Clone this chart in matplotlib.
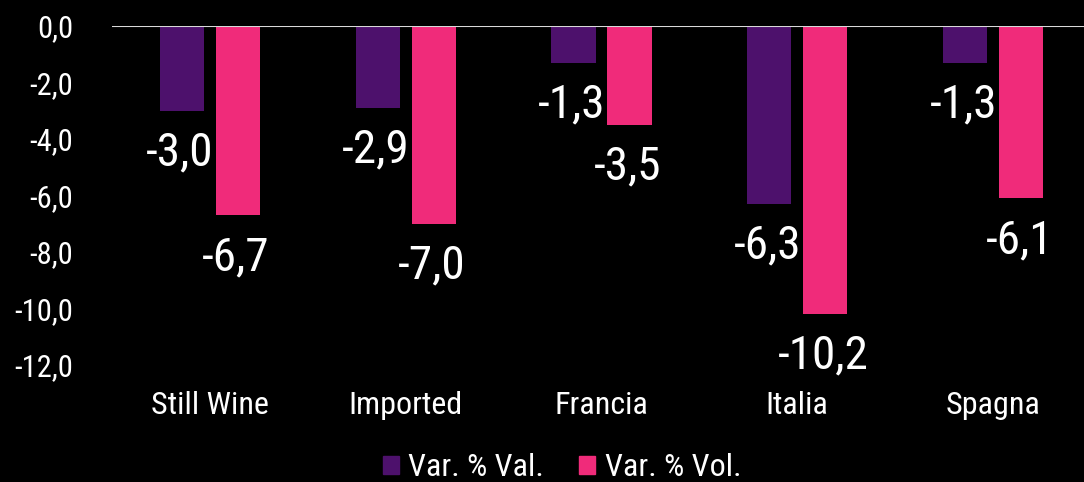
import numpy as np
import matplotlib.pyplot as plt
from matplotlib.patches import Patch

# dati
categorie = ['Still Wine', 'Imported', 'Francia', 'Italia', 'Spagna']
var_val = [-3.0, -2.9, -1.3, -6.3, -1.3]
var_vol = [-6.7, -7.0, -3.5, -10.2, -6.1]
yticks = [0, -2, -4, -6, -8, -10, -12]

viola = '#4D116C'
rosa = '#F02B7A'

plt.rcParams['font.family'] = ['Roboto Condensed', 'Liberation Sans Narrow', 'Roboto', 'DejaVu Sans']

fig = plt.figure(figsize=(10.84, 4.82), dpi=100, facecolor='black')
ax = fig.add_axes([112 / 1084, 1 - 365 / 482, 979 / 1084, 339 / 482])
ax.set_facecolor('black')

x = np.arange(len(categorie))
w = 0.225
off = 0.143
b1 = ax.bar(x - off, var_val, w, color=viola)
b2 = ax.bar(x + off, var_vol, w, color=rosa)

# etichette sotto le barre
for bars, vals in ((b1, var_val), (b2, var_vol)):
    for r, v in zip(bars, vals):
        ax.annotate(f'{v:.1f}'.replace('.', ','),
                    (r.get_x() + r.get_width() / 2 - 0.01, v),
                    xytext=(0, -30), textcoords='offset points',
                    ha='center', va='center', color='white', fontsize=34)

ax.axhline(0, color='#D9D9D9', lw=1.5)
ax.set_xlim(-0.5, len(categorie) - 0.5)
ax.set_ylim(-12, 0)
ax.set_yticks(yticks)
ax.set_yticklabels([f'{t:.1f}'.replace('.', ',') for t in yticks])
ax.set_xticks(x)
ax.set_xticklabels(categorie)
ax.tick_params(axis='y', length=0, pad=28, labelsize=22, labelcolor='white')
ax.tick_params(axis='x', length=0, pad=19, labelsize=23, labelcolor='white')
for s in ax.spines.values():
    s.set_visible(False)

handles = [Patch(color=viola, label='Var. % Val.'), Patch(color=rosa, label='Var. % Vol.')]
fig.legend(handles=handles, loc='center', bbox_to_anchor=(562 / 1084, 1 - 468 / 482),
           ncol=2, frameon=False, fontsize=23, labelcolor='white',
           handlelength=0.5, handleheight=0.5, handletextpad=0.3, columnspacing=1.1,
           borderpad=0, borderaxespad=0)

fig.savefig('out.png', dpi=100, facecolor='black')
